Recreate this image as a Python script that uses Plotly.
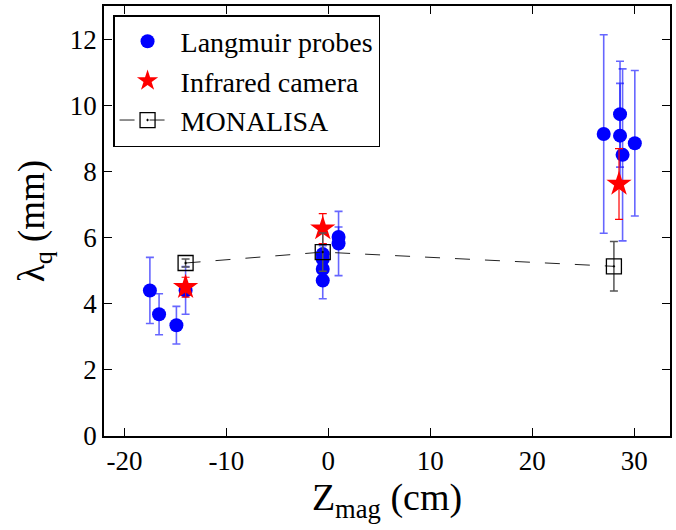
import plotly.graph_objects as go

# Langmuir probes
lp_x = [-17.5, -16.6, -14.9, -14.0, -0.55, -0.55, -0.55, -0.55, 1.0, 1.0, 27.0, 28.6, 28.6, 28.85, 30.05]
lp_y = [4.4, 3.68, 3.35, 4.4, 5.5, 5.35, 5.05, 4.7, 6.02, 5.82, 9.13, 9.73, 9.08, 8.5, 8.85]
lp_err = [1.0, 0.62, 0.57, 0.72, 0.3, 0.4, 0.45, 0.55, 0.3, 0.97, 3.0, 1.6, 1.58, 2.6, 2.2]

# Infrared camera
ir_x = [-14.0, -0.55, 28.5]
ir_y = [4.5, 6.27, 7.62]
ir_err = [0.3, 0.45, 1.07]

# MONALISA
mo_x = [-14.0, -0.55, 28.0]
mo_y = [5.23, 5.56, 5.13]
mo_err = [0.12, 0.58, 0.75]

x_ticks = [-20, -10, 0, 10, 20, 30]
y_ticks = [0, 2, 4, 6, 8, 10, 12]

FONT = "Liberation Serif"
TICKFONT = dict(family=FONT, size=27, color="black")

fig = go.Figure()
fig.add_trace(go.Scatter(
    x=lp_x, y=lp_y, mode="markers", name="Langmuir probes",
    marker=dict(symbol="circle", size=14, color="#0000ff"),
    error_y=dict(type="data", array=lp_err, color="rgba(0,0,255,0.6)", thickness=1.6, width=4),
))
fig.add_trace(go.Scatter(
    x=ir_x, y=ir_y, mode="markers", name="Infrared camera",
    marker=dict(symbol="star", size=19, color="#ff0000", line=dict(width=0)),
    error_y=dict(type="data", array=ir_err, color="#ff0000", thickness=1.2, width=4),
))
fig.add_trace(go.Scatter(
    x=mo_x, y=mo_y, mode="lines+markers", name="MONALISA",
    line=dict(color="#222222", width=1, dash="longdash"),
    marker=dict(symbol="square-open-dot", size=15, color="black", line=dict(width=1.3, color="black")),
    error_y=dict(type="data", array=mo_err, color="#555555", thickness=1.5, width=4),
))

fig.update_layout(
    width=676, height=530,
    margin=dict(l=104, r=4, t=5, b=94),
    paper_bgcolor="white", plot_bgcolor="white",
    font=dict(family=FONT, size=27, color="black"),
    xaxis=dict(
        range=[-22, 33.5], tickmode="array", tickvals=x_ticks, ticktext=[str(v) for v in x_ticks],
        showline=True, linecolor="black", linewidth=1.5, mirror="allticks",
        ticks="inside", ticklen=8, tickwidth=1, tickcolor="black",
        showgrid=False, zeroline=False, tickfont=TICKFONT,
        title=dict(text="Z<sub>mag</sub> (cm)", font=dict(family=FONT, size=38, color="black"), standoff=0),
    ),
    yaxis=dict(
        range=[0, 13], tickmode="array", tickvals=y_ticks, ticktext=[str(v) for v in y_ticks],
        showline=True, linecolor="black", linewidth=1.5, mirror="allticks",
        ticks="inside", ticklen=8, tickwidth=1, tickcolor="black",
        showgrid=False, zeroline=False, tickfont=TICKFONT,
        title=dict(text="λ<sub>q</sub> (mm)", font=dict(family=FONT, size=37, color="black"), standoff=14),
    ),
    showlegend=True,
    legend=dict(x=0.016, y=0.979, xanchor="left", yanchor="top",
                bgcolor="white", bordercolor="black", borderwidth=1.5,
                font=dict(family=FONT, size=28, color="black"),
                tracegroupgap=0, itemwidth=56),
)

fig.write_html("out.html")
